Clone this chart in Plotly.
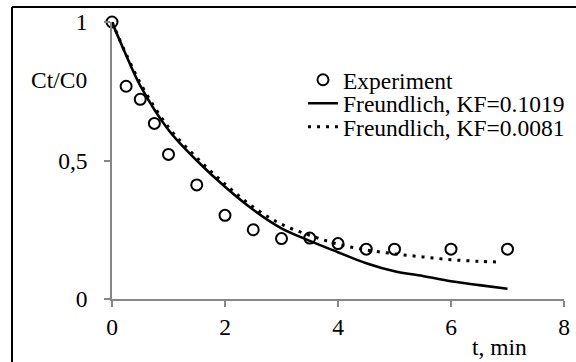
import plotly.graph_objects as go

# Experimental data
t_exp = [0, 0.25, 0.5, 0.75, 1.0, 1.5, 2.0, 2.5, 3.0, 3.5, 4.0, 4.5, 5.0, 6.0, 7.0]
c_exp = [1.0, 0.768, 0.721, 0.634, 0.522, 0.412, 0.302, 0.25, 0.218, 0.22, 0.20, 0.18, 0.18, 0.18, 0.18]

# Freundlich, KF=0.1019 (solid)
t_f1 = [0, 0.25, 0.5, 1.0, 1.5, 2.0, 2.5, 3.0, 3.5, 4.0, 4.5, 5.0, 5.5, 6.0, 6.5, 7.0]
c_f1 = [1.0, 0.88, 0.77, 0.61, 0.50, 0.405, 0.322, 0.255, 0.21, 0.169, 0.129, 0.10, 0.083, 0.064, 0.05, 0.037]

# Freundlich, KF=0.0081 (dotted)
t_f2 = [0, 0.5, 1.0, 1.5, 2.0, 2.5, 3.0, 3.5, 4.0, 4.5, 5.0, 5.5, 6.0, 6.5, 6.9]
c_f2 = [1.0, 0.78, 0.62, 0.51, 0.415, 0.332, 0.27, 0.23, 0.198, 0.177, 0.163, 0.152, 0.142, 0.136, 0.133]

x_ticks = [0, 2, 4, 6, 8]
y_ticks = [0, 0.5, 1]
y_tick_labels = ["0", "0,5", "1"]

FONT = "Liberation Serif"
FS = 23.5
AXC = "#868686"

W, H = 576, 362
L, R, T, B = 112, 12, 22, 63
PW, PH = W - L - R, H - T - B

def px_x(p):
    return (p - L) / PW

def px_y(p):
    return (H - B - p) / PH

fig = go.Figure()
fig.add_trace(go.Scatter(
    x=t_exp, y=c_exp, mode="markers", name="Experiment",
    marker=dict(symbol="circle-open", size=11, color="black", line=dict(width=2, color="black")),
    cliponaxis=False, legend="legend",
))
fig.add_trace(go.Scatter(
    x=t_f1, y=c_f1, mode="lines", name="Freundlich, KF=0.1019",
    line=dict(color="black", width=2.6, shape="spline"),
    cliponaxis=False, legend="legend2",
))
fig.add_trace(go.Scatter(
    x=t_f2, y=c_f2, mode="lines", name="Freundlich, KF=0.0081",
    line=dict(color="black", width=3, dash="3px,6px", shape="spline"),
    cliponaxis=False, legend="legend3",
))

leg_common = dict(xanchor="left", yanchor="middle", bgcolor="rgba(0,0,0,0)",
                  font=dict(family=FONT, size=FS, color="black"), borderwidth=0)
lx = px_x(303)

fig.update_layout(
    template="none",
    width=W, height=H,
    margin=dict(l=L, r=R, t=T, b=B, autoexpand=False),
    paper_bgcolor="white", plot_bgcolor="white",
    font=dict(family=FONT, size=FS, color="black"),
    showlegend=True,
    legend=dict(x=lx, y=px_y(80), **leg_common),
    legend2=dict(x=lx, y=px_y(103.5), **leg_common),
    legend3=dict(x=lx, y=px_y(127), **leg_common),
    xaxis=dict(range=[0, 8], tickvals=x_ticks, showgrid=False, zeroline=False, automargin=False,
               showline=True, linecolor=AXC, linewidth=1.5,
               ticks="outside", ticklen=6, tickcolor=AXC, tickwidth=1.5,
               tickfont=dict(family=FONT, size=FS, color="black")),
    yaxis=dict(range=[0, 1], tickvals=y_ticks, ticktext=y_tick_labels, showgrid=False, zeroline=False,
               automargin=False, ticklabelstandoff=12,
               showline=True, linecolor=AXC, linewidth=1.5,
               ticks="outside", ticklen=6, tickcolor=AXC, tickwidth=1.5,
               tickfont=dict(family=FONT, size=FS, color="black")),
    shapes=[
        dict(type="line", xref="paper", yref="paper",
             x0=px_x(12), x1=px_x(W), y0=px_y(7), y1=px_y(7),
             line=dict(color="black", width=2), layer="below"),
        dict(type="line", xref="paper", yref="paper",
             x0=px_x(12), x1=px_x(12), y0=px_y(7), y1=px_y(H),
             line=dict(color="black", width=2), layer="below"),
    ],
    annotations=[
        dict(text="Ct/C0", xref="paper", yref="paper", x=px_x(89), y=px_y(80),
             xanchor="right", yanchor="middle", showarrow=False,
             font=dict(family=FONT, size=FS, color="black")),
        dict(text="t, min", xref="paper", yref="paper", x=px_x(470), y=px_y(347),
             xanchor="left", yanchor="middle", showarrow=False,
             font=dict(family=FONT, size=FS, color="black")),
    ],
)

fig.write_html("out.html", config={"displayModeBar": False},
               post_script=("document.documentElement.style.overflow='hidden';"
                            "document.body.style.margin='0';document.body.style.overflow='hidden';"))
